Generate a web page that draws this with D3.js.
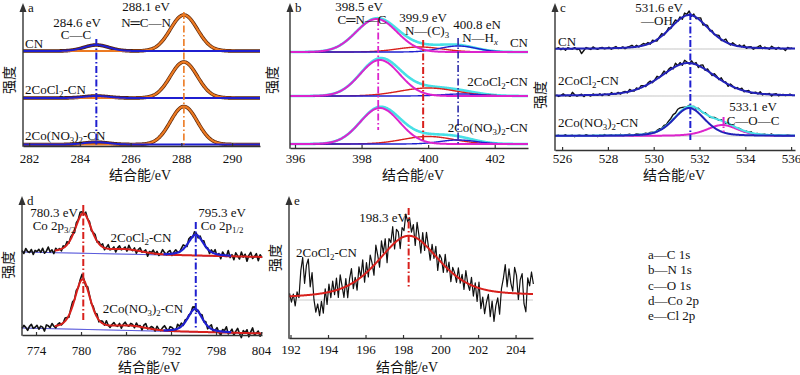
<!DOCTYPE html>
<html>
<head>
<meta charset="utf-8">
<script src="https://cdn.jsdelivr.net/npm/d3@7"></script>
<style>
  body { margin: 0; background: #fff; }
  svg { display: block; }
  text { font-family: "Liberation Serif", "Times New Roman", "Noto Sans CJK SC", serif; fill: #111; }
</style>
</head>
<body>
<svg width="800" height="375"></svg>
<script>
// ---------------- data ----------------
// peaks are [centre eV, height, fwhm eV]; heights/offsets are in intensity units of each panel
const sampleNames = ["CN", "2CoCl_{2}-CN", "2Co(NO_{3})_{2}-CN"];
const legendItems = ["a\u2014C 1s", "b\u2014N 1s", "c\u2014O 1s", "d\u2014Co 2p", "e\u2014Cl 2p"];

// (a) C 1s
const aTicks = [282, 284, 286, 288, 290];
const aBase = [95, 48, 1.5];
const aCC = [[284.65, 6, 1.15], [284.65, 2, 1.15], [284.65, 2.3, 1.15]];
const aNCN = [[288.1, 36, 1.25], [288.1, 36, 1.25], [288.1, 38, 1.25]];

// (b) N 1s
const bTicks = [396, 398, 400, 402];
const bBase = [96, 52, 4];
const bCNC = [[398.45, 33, 1.45], [398.55, 36, 1.4], [398.55, 36, 1.4]];
const bNC3 = [[399.75, 5, 1.6], [400.0, 8, 2.0], [400.0, 7.5, 1.8]];
const bNHx = [[400.9, 6, 1.3], [401.0, 2, 1.4], [400.9, 4, 1.3]];

// (c) O 1s
const cTicks = [526, 528, 530, 532, 534, 536];
const cBase = [101, 54, 14];
const cOH = [[531.55, 34, 2.0], [531.5, 33, 2.8], [531.55, 28, 1.6]];
const cCOC = [null, null, [533.0, 11, 1.6]];
const cStart = 525.75, cStep = 0.1;
const cNoise = [
  [0,1,-1,0.5,-1.5,1,0,-0.5,1,-1, -0.5,-5,-2,1,0,-1,1.5,0,-1,0.5,
   1,-0.5,0,1,-1,0.5,1.5,-0.5,0,1, -1,0.5,1,2,0,1.5,-0.5,1,2,0.5,
   1.5,-1,2,0,-1.5,1,2.5,-1,0,2, -1,1.5,3,-0.5,2,-2,3,1,4,-1,
   2,-1.5,1,3,-2,0.5,2,-1,1.5,-0.5, 1,2.5,-1,0.5,3,0,-1,2,1,-0.5,
   1.5,0,2,-1,0.5,1,-1.5,0,1,2.5, -0.5,1,0,-1,2,0.5,-1,1,-0.5,0,
   -2,1,0,0.5],
  [0.5,-1,0,1.5,-0.5,0,-1,3,0.5,-1, 0,1,-1.5,0.5,0,-1,1,0,-0.5,1,
   -1,0.5,0,-1,1.5,0,-0.5,1,-1,0.5, 1,-1,2,0,-1,1.5,-0.5,2,1,-1,
   1.5,2,-1,0.5,2.5,-0.5,1,3,-1,1.5, 2,-1,3.5,0,2,-1.5,3,1,-1,2.5,
   0,2,-2,1.5,3,-1,2,0,-1.5,2, 1,-1,2.5,0,1,-2,1.5,0.5,-1,1,
   0,2,-1,0.5,1.5,-1,0,1,-0.5,2, -1,0.5,0,1,-1.5,0.5,1,-1,0,0.5,
   -0.5,0,1,0],
  [0,0.5,-0.5,0,1,-0.5,0,0.5,-1,0, 0.5,0,-0.5,1,0,-0.5,0.5,0,-1,0.5,
   0,1,-0.5,0,0.5,-1,0.5,0,1,-0.5, 0,0.5,1,-0.5,0,1,0.5,-1,0.5,1,
   0,1,0.5,-0.5,1,1.5,0.5,2,1,2.5, 3,4.5,3.5,5,4,2.5,1,0,1,-0.5,
   0.5,-1,1,0,-0.5,1,0.5,-1,0,1, 0.5,-0.5,1,0,-1,0.5,0,1,-0.5,0,
   0.5,0,-1,0.5,0,1,-0.5,0,0.5,-0.5, 0,0.5,-0.5,0,1,-0.5,0,0.5,0,-0.5,
   0,0.5,0,-0.5]
];

// (d) Co 2p
const dTicks = [774, 780, 786, 792, 798, 804];
const dBg = [[83, 78], [7, 1.5]];          // background at low / high end of range
const d32 = [[780.3, 40, 2.6], [780.2, 50, 2.5]];
const d12 = [[795.3, 21, 2.4], [795.2, 23, 2.3]];
const dSat = [[786, 4, 5], [786.5, 4, 5]];
const dStart = 772.13, dStep = 0.25;
const dNoise = [
  [1,-2,3,0,-1,2,-3,1,0,2, -1,3,-2,0,4,-1,1,-3,2,0, 1,-2,2,0,3,-1,2,1,-2,3,
   1,4,2,-1,3,0,2,-2,1,3, -1,2,0,3,-2,1,4,-1,0,2, -3,1,3,-1,0,2,-2,4,0,-1,
   2,-3,1,3,-1,0,2,-4,1,0, 3,-1,2,-2,0,4,1,-1,2,3, -2,1,3,0,-1,2,4,1,-2,3,
   2,-1,3,1,-2,2,0,3,-1,1, -3,2,0,4,-2,1,-4,3,0,-1, 5,-2,1,-4,3,0,-3,4,-1,2,
   -5,1,4,-2,0,3,-4,2,-1],
  [-1,2,0,-3,1,3,-1,0,2,-2, 1,0,-4,2,1,-1,3,0,-2,1, 2,-1,0,3,1,-2,2,4,0,3,
   -1,2,5,1,-2,3,1,-1,2,0, 3,-2,1,2,-1,4,0,-2,1,3, 0,-1,2,-3,1,3,0,-1,2,1,
   -2,3,0,1,-3,2,4,-1,0,2, 1,-2,3,0,-1,2,4,1,-1,3, 2,0,-2,4,1,3,-1,2,0,1,
   -1,3,2,-2,1,0,3,-1,2,-3, 1,4,-2,0,3,-1,-4,2,1,5, -2,0,3,-3,1,4,-1,-5,2,0,
   3,-4,1,5,-2,0,2,-3,1]
];

// (e) Cl 2p
const eTicks = [192, 194, 196, 198, 200, 202, 204];
const eBg = [39, 41.5];
const eGrey = 38;
const ePeak = [198.3, 62, 3.9];
const eStart = 191.95, eStep = 0.1;
const eNoise = [
  3,-6,2,-10,4,-2, 25,38,12,30,36,8, 22,-5,-18,-10,-22,-8, -20,4,-12,8,-6,10,
  -4,12,-8,14,2,-10, 8,-12,6,15,-6,4, -10,12,0,16,-8,10, -6,14,4,-10,18,6,
  -8,16,2,14,-12,10, 4,18,-6,12,8,-10, 10,6,22,14,18,4, 12,-8,16,4,-12,10,
  -6,14,2,-10,8,-4, 10,-12,6,4,-8,12, -4,8,-10,6,2,-6, 10,-4,6,-8,12,0,
  -6,8,-10,4,-14,6, -20,-8,-24,-12,-4,-26, -10,-30,-14,-6,-22,4, 14,28,6,24,10,2,
  26,18,-6,14,20,-10, -18,16,8,22,10
];

// ---------------- drawing ----------------
const svg = d3.select("svg");
const dashDot = "7,2.5,1.5,2.5";
const BLUE = "#1f1fd0", ORANGE = "#ec7a22", MAGENTA = "#dc24cc", CYAN = "#48e0e6", RED = "#d8201c";

function pv(e, p, eta) {
  const t = (e - p[0]) / p[2];
  return p[1] * ((1 - eta) * Math.exp(-4 * Math.LN2 * t * t) + eta / (1 + 4 * t * t));
}

function panel(o) {
  const x = d3.scaleLinear().domain(o.domain).range([o.left, o.right]);
  const y = d3.scaleLinear().domain([0, o.axisY - o.top]).range([o.axisY, o.top]);
  const g = svg.append("g");
  const line = d3.line().x(d => x(d[0])).y(d => y(d[1]));
  return { x, y, g, line, o };
}

function curve(P, f, color, width, lo, hi) {
  const dom = P.x.domain();
  lo = lo === undefined ? dom[0] : lo;
  hi = hi === undefined ? dom[1] : hi;
  const step = (dom[1] - dom[0]) / 500;
  const pts = d3.range(lo, hi + step / 2, step).map(e => [e, f(e)]);
  P.g.append("path").datum(pts).attr("d", P.line)
    .attr("fill", "none").attr("stroke", color).attr("stroke-width", width)
    .attr("stroke-linejoin", "round");
}

function noisy(P, start, step, noise, f, color, width) {
  const pts = noise.map((n, i) => { const e = start + i * step; return [e, f(e) + n]; });
  P.g.append("path").datum(pts).attr("d", P.line)
    .attr("fill", "none").attr("stroke", color).attr("stroke-width", width)
    .attr("stroke-linejoin", "round");
}

function vmark(P, e, y0, y1, color, width) {
  P.g.append("line")
    .attr("x1", P.x(e)).attr("x2", P.x(e)).attr("y1", P.y(y0)).attr("y2", P.y(y1))
    .attr("stroke", color).attr("stroke-width", width).attr("stroke-dasharray", dashDot);
}

// text with _{sub} markup
function rich(g, str, x, y, anchor, size) {
  size = size || 13;
  const t = g.append("text").attr("x", x).attr("y", y)
    .attr("text-anchor", anchor || "start").attr("font-size", size);
  let down = false;
  str.split(/(_\{[^}]*\})/).forEach(s => {
    if (!s) return;
    if (s.startsWith("_{")) {
      const sub = s.slice(2, -1);
      t.append("tspan").attr("dy", down ? 0 : 3).attr("font-size", size * 0.68)
        .attr("font-style", sub === "x" ? "italic" : null).text(sub);
      down = true;
    } else {
      t.append("tspan").attr("dy", down ? -3 : 0).text(s);
      down = false;
    }
  });
  return t;
}

function axes(P, ticks, letter, titleX, ylab) {
  const o = P.o;
  const ax = P.g.append("g").attr("transform", `translate(0,${o.axisY})`)
    .call(d3.axisBottom(P.x).tickValues(ticks).tickFormat(d3.format("d"))
      .tickSizeInner(-3).tickSizeOuter(0).tickPadding(o.tickPad));
  ax.select(".domain").attr("stroke", "#333").attr("stroke-width", 1.4);
  ax.selectAll(".tick line").attr("stroke", "#333").attr("stroke-width", 1.2);
  ax.selectAll("text").attr("font-size", 13);

  P.g.append("line").attr("x1", o.left).attr("x2", o.left)
    .attr("y1", o.axisY + 0.7).attr("y2", o.top + 5)
    .attr("stroke", "#333").attr("stroke-width", 1.4);
  P.g.append("path")
    .attr("d", `M${o.left - 3.5},${o.top + 9}L${o.left},${o.top}L${o.left + 3.5},${o.top + 9}Z`)
    .attr("fill", "#333");
  P.g.append("text").attr("x", o.left + 5).attr("y", o.top + 9).attr("font-size", 13).text(letter);
  P.g.append("text").attr("x", titleX).attr("y", o.titleY)
    .attr("text-anchor", "middle").attr("font-size", 14).text("结合能/eV");
  P.g.append("text")
    .attr("transform", `translate(${ylab[0] + 5},${ylab[1]}) rotate(-90)`)
    .attr("text-anchor", "middle").attr("font-size", 14).text("强度");
}

// ----- panel a -----
const A = panel({ domain: [281.76, 291.1], left: 23, right: 260, axisY: 146, top: 3, tickPad: 8, titleY: 180 });
aBase.forEach((b, i) => {
  curve(A, e => b + pv(e, aCC[i], 0) + pv(e, aNCN[i], 0), "#5a2408", 3.6);
  curve(A, e => b + pv(e, aNCN[i], 0), ORANGE, 2.2);
  curve(A, e => b + pv(e, aCC[i], 0), BLUE, 2);
});
vmark(A, 284.65, 107, 0, BLUE, 2);
vmark(A, 288.1, 134, 0, ORANGE, 1.6);
axes(A, aTicks, "a", 140, [9, 80]);
rich(A.g, "284.6 eV", 77, 26.5, "middle");
rich(A.g, "C\u2014C", 76, 39, "middle");
rich(A.g, "288.1 eV", 146, 11, "middle");
rich(A.g, "N\u2550C\u2014N", 146, 27, "middle");
[48, 94, 140].forEach((yy, i) => rich(A.g, sampleNames[i], 25, yy, "start"));

// ----- panel b -----
const B = panel({ domain: [395.85, 403.0], left: 290, right: 528, axisY: 148, top: 3, tickPad: 6, titleY: 180 });
bBase.forEach((b, i) => {
  curve(B, e => b + pv(e, bCNC[i], 0) + pv(e, bNC3[i], 0) + pv(e, bNHx[i], 0), CYAN, 2.6);
  curve(B, e => b + pv(e, bNC3[i], 0), RED, 1.4);
  curve(B, e => b + pv(e, bNHx[i], 0), BLUE, 1.4);
  curve(B, e => b + pv(e, bCNC[i], 0), MAGENTA, 2);
});
vmark(B, 398.5, 129, 18, MAGENTA, 1.8);
vmark(B, 399.85, 108, 8, RED, 2);
vmark(B, 400.9, 110, 3, "#2a2aa8", 1.6);
axes(B, bTicks, "b", 413, [272, 80]);
rich(B.g, "398.5 eV", 359, 10.5, "middle");
rich(B.g, "C\u2550N\u2014C", 362, 23.5, "middle");
rich(B.g, "399.9 eV", 423, 21.5, "middle");
rich(B.g, "N\u2014(C)_{3}", 427, 35, "middle");
rich(B.g, "400.8 eN", 477, 28.5, "middle");
rich(B.g, "N\u2014H_{x}", 480, 42, "middle");
[47, 86, 132].forEach((yy, i) => rich(B.g, sampleNames[i], 528, yy, "end"));

// ----- panel c -----
const C = panel({ domain: [525.69, 536.17], left: 555, right: 795, axisY: 150, top: 3, tickPad: 4, titleY: 180 });
cBase.forEach((b, i) => {
  const comp2 = cCOC[i];
  const fit = e => b + pv(e, cOH[i], 0.3) + (comp2 ? pv(e, comp2, 0.4) : 0);
  curve(C, () => b, "#bdbdbd", 1);
  noisy(C, cStart, cStep, cNoise[i], fit, "#111", 1.4);
  if (comp2) {
    curve(C, e => b + pv(e, comp2, 0.4), MAGENTA, 2);
    curve(C, fit, CYAN, 2);
  }
  curve(C, e => b + pv(e, cOH[i], 0.3), "#2222b8", 2);
});
vmark(C, 531.6, 137, 10, BLUE, 2);
vmark(C, 533.05, 33, 18, MAGENTA, 2);
axes(C, cTicks, "c", 674, [540, 95]);
rich(C.g, "531.6 eV", 659, 11.5, "middle");
rich(C.g, "\u2014OH", 657, 24.5, "middle");
rich(C.g, "533.1 eV", 753, 111, "middle");
rich(C.g, "C\u2014O\u2014C", 753, 124.5, "middle");
[46, 85, 127].forEach((yy, i) => rich(C.g, sampleNames[i], 558, yy, "start"));

// ----- panel d -----
const D = panel({ domain: [772.13, 804.13], left: 22, right: 262, axisY: 335, top: 196, tickPad: 11, titleY: 372 });
const dDom = D.x.domain();
dBg.forEach((bg, i) => {
  const base = e => bg[0] + (bg[1] - bg[0]) * (e - dDom[0]) / (dDom[1] - dDom[0]);
  const fit = e => base(e) + pv(e, d32[i], 0.5) + pv(e, d12[i], 0.5) + pv(e, dSat[i], 0);
  curve(D, base, BLUE, 1);
  noisy(D, dStart, dStep, dNoise[i], fit, "#111", 1.6);
  curve(D, e => base(e) + pv(e, d32[i], 0.5) + pv(e, dSat[i], 0), RED, 2, 776.5);
  curve(D, e => base(e) + pv(e, d12[i], 0.5), BLUE, 2.2, 791, 800);
});
vmark(D, 780.3, 130, 13, RED, 2);
vmark(D, 795.3, 113, 5, BLUE, 2);
axes(D, dTicks, "d", 149, [8, 265]);
rich(D.g, "780.3 eV", 54, 216.5, "middle");
rich(D.g, "Co 2p_{3/2}", 54, 230, "middle");
rich(D.g, "795.3 eV", 222, 216.5, "middle");
rich(D.g, "Co 2p_{1/2}", 222, 230, "middle");
rich(D.g, sampleNames[1], 141, 242, "middle");
rich(D.g, sampleNames[2], 143, 313, "middle");

// ----- panel e -----
const E = panel({ domain: [191.92, 204.93], left: 289, right: 533, axisY: 338, top: 196, tickPad: 7, titleY: 372 });
const eDom = E.x.domain();
const eBase = e => eBg[0] + (eBg[1] - eBg[0]) * (e - eDom[0]) / (eDom[1] - eDom[0]);
const eFit = e => eBase(e) + pv(e, ePeak, 0.5);
curve(E, () => eGrey, "#c4c4c4", 1);
noisy(E, eStart, eStep, eNoise, eFit, "#111", 1.2);
curve(E, eFit, RED, 2);
vmark(E, 198.3, 130, 50, RED, 2);
axes(E, eTicks, "e", 407, [275, 258]);
rich(E.g, "198.3 eV", 383, 222, "middle");
rich(E.g, sampleNames[1], 296, 257, "start");

// ----- legend -----
svg.append("g").selectAll("text").data(legendItems).join("text")
  .attr("x", 648).attr("y", (d, i) => 259 + i * 15.3)
  .attr("font-size", 13).text(d => d);
</script>
</body>
</html>
